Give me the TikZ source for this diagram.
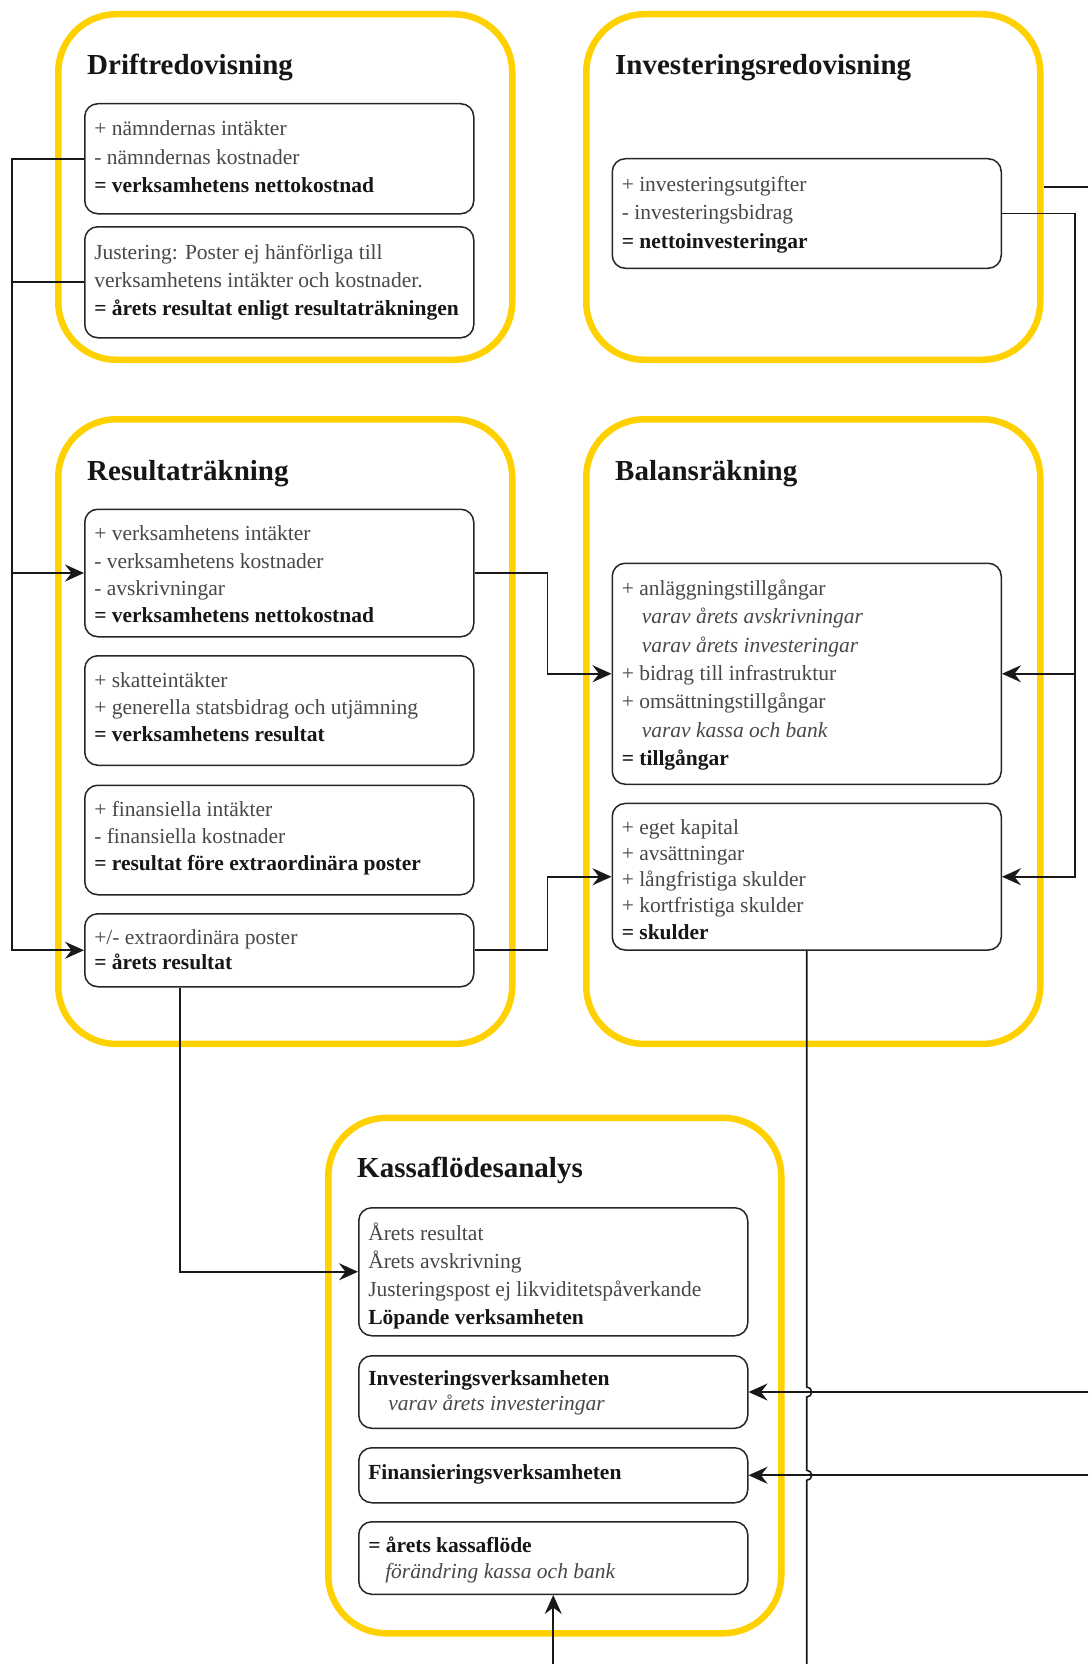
\documentclass[tikz,border=0pt]{standalone}
\usepackage{fontspec}
\setmainfont{Liberation Serif}
\usetikzlibrary{arrows.meta,positioning,calc}

\definecolor{ramgul}{RGB}{255,209,0}
\definecolor{textgra}{RGB}{72,72,72}
\definecolor{textmork}{RGB}{22,22,22}

\newcommand{\summa}[1]{{\color{textmork}\bfseries #1}}
\newcommand{\varav}[1]{\hspace*{20pt}\textit{#1}}
\newcommand{\rader}[3][27.5]{\parbox[t][\dimexpr#2pt-25pt\relax][t]{370pt}{\fontsize{21.5}{#1}\selectfont\strut#3}}

\tikzset{
  ram/.style={draw=ramgul, line width=6.5pt, rounded corners=58pt, anchor=north west, inner sep=0pt},
  rubrik/.style={anchor=base west, inner sep=0pt, font=\fontsize{29}{34}\selectfont\bfseries, text=textmork},
  post/.style={draw=black!85, line width=1.5pt, rounded corners=13pt, anchor=north west, inner xsep=9.5pt, inner ysep=12.5pt, text=textgra},
  linje/.style={line width=1.6pt, black!90},
  pil/.style={linje, -{Stealth[length=19pt, width=17pt, inset=6.5pt]}},
}

\begin{document}
\begin{tikzpicture}[x=1pt, y=-1pt]
\path[use as bounding box, fill=white] (0,0) rectangle (1088,1664);
\coordinate (hogerkant) at (1088,0);
\coordinate (nederkant) at (0,1664);

% Gula ramar
\node[ram, minimum width=454, minimum height=345.5] (driftram) at (55,11) {};
\node[ram, minimum width=454, minimum height=345.5] (invram) at (583,11) {};
\node[ram, minimum width=454, minimum height=624.7] (resram) at (55,416) {};
\node[ram, minimum width=454, minimum height=624.7] (balram) at (583,416) {};
\node[ram, minimum width=453, minimum height=515.4] (kassaram) at (325,1114.6) {};

% Rubriker
\node[rubrik] (driftrub) at ([shift={(32pt,-64pt)}]driftram.north west) {Driftredovisning};
\node[rubrik] (invrub) at ([shift={(32pt,-64pt)}]invram.north west) {Investeringsredovisning};
\node[rubrik] (resrub) at ([shift={(32pt,-64pt)}]resram.north west) {Resultaträkning};
\node[rubrik] (balrub) at ([shift={(32pt,-64pt)}]balram.north west) {Balansräkning};
\node[rubrik] (kassarub) at ([shift={(32pt,-62.5pt)}]kassaram.north west) {Kassaflödesanalys};

% Driftredovisning
\node[post] (drift1) at (84,103) {\rader[28.2]{110}{+ nämndernas intäkter\\- nämndernas kostnader\\\summa{= verksamhetens nettokostnad}}};
\node[post] (drift2) at (84,226) {\rader[28.4]{111}{Justering: Poster ej hänförliga till\\verksamhetens intäkter och kostnader.\\\summa{= årets resultat enligt resultaträkningen}}};

% Investeringsredovisning
\node[post] (inv1) at (611.5,158) {\rader[28.5]{109.5}{+ investeringsutgifter\\- investeringsbidrag\\\summa{= nettoinvesteringar}}};

% Resultaträkning
\node[post] (res1) at (84,508.5) {\rader[27.3]{127.5}{+ verksamhetens intäkter\\- verksamhetens kostnader\\- avskrivningar\\\summa{= verksamhetens nettokostnad}}};
\node[post] (res2) at (84,655) {\rader[27]{109.5}{+ skatteintäkter\\+ generella statsbidrag och utjämning\\\summa{= verksamhetens resultat}}};
\node[post] (res3) at (84,784.5) {\rader[27]{109.5}{+ finansiella intäkter\\- finansiella kostnader\\\summa{= resultat före extraordinära poster}}};
\node[post] (res4) at (84,913) {\rader[25.6]{73}{+/- extraordinära poster\\\summa{= årets resultat}}};

% Balansräkning
\node[post] (bal1) at (611.5,562.5) {\rader[28.3]{221}{+ anläggningstillgångar\\\varav{varav årets avskrivningar}\\\varav{varav årets investeringar}\\+ bidrag till infrastruktur\\+ omsättningstillgångar\\\varav{varav kassa och bank}\\\summa{= tillgångar}}};
\node[post] (bal2) at (611.5,802.7) {\rader[26.2]{146.6}{+ eget kapital\\+ avsättningar\\+ långfristiga skulder\\+ kortfristiga skulder\\\summa{= skulder}}};

% Kassaflödesanalys
\node[post] (kassa1) at (358,1207) {\rader[28.2]{128}{Årets resultat\\Årets avskrivning\\Justeringspost ej likviditetspåverkande\\\summa{Löpande verksamheten}}};
\node[post] (kassa2) at (358,1355) {\rader[25]{72.5}{\summa{Investeringsverksamheten}\\\varav{varav årets investeringar}}};
\node[post] (kassa3) at (358,1447) {\rader{55}{\summa{Finansieringsverksamheten}}};
\node[post] (kassa4) at (358,1521) {\rader[26]{72.5}{\summa{= årets kassaflöde}\\\hspace*{-3pt}\varav{förändring kassa och bank}}};

% Kopplingar
\draw[pil] (drift1.west) -- ++(-72,0) |- (res4.west);
\draw[pil] (drift2.west) -- ++(-72,0) |- (res1.west);
\draw[pil] (res1.east) -- ++(73,0) |- (bal1.west);
\draw[pil] (res4.east) -- ++(73,0) |- (bal2.west);
\draw[pil] (inv1.east) -- ++(73,0) |- (bal1.east);
\draw[pil] (inv1.east) -- ++(73,0) |- (bal2.east);
\draw[linje] (invram.east) -- (hogerkant |- invram.east);
\draw[pil] ([xshift=96pt]res4.south west) |- (kassa1.west);
\draw[linje] (bal2.south) -- ([yshift=5pt]bal2.south |- kassa2.east)
  arc[start angle=90, end angle=-90, radius=5pt]
  -- ([yshift=5pt]bal2.south |- kassa3.east)
  arc[start angle=90, end angle=-90, radius=5pt]
  -- (bal2.south |- nederkant);
\draw[pil] (hogerkant |- kassa2.east) -- (kassa2.east);
\draw[pil] (hogerkant |- kassa3.east) -- (kassa3.east);
\draw[pil] (kassa4.south |- nederkant) -- (kassa4.south);

\end{tikzpicture}
\end{document}
